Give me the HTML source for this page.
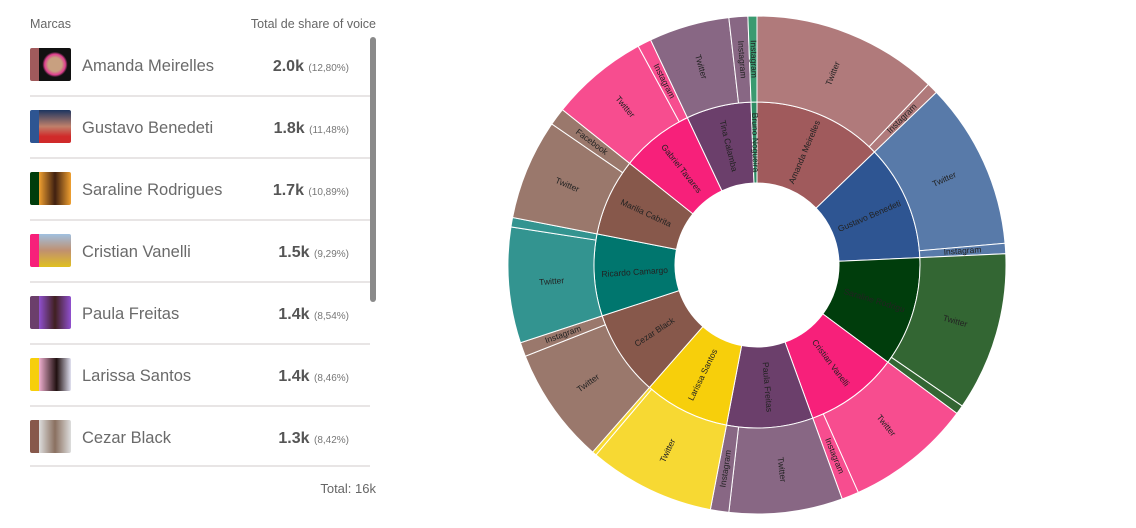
<!DOCTYPE html>
<html><head><meta charset="utf-8"><style>
body{margin:0;width:1136px;height:528px;background:#fff;font-family:"Liberation Sans",sans-serif;position:relative;overflow:hidden}
.h{position:absolute;top:17px;font-size:12.5px;color:#666}
.row{position:absolute;left:30px;width:340px;height:62px;border-bottom:2px solid #e8e5e5}
.av{position:absolute;left:0;top:0;width:41px;height:33px;border-radius:2px;overflow:hidden}
.st{position:absolute;left:0;top:0;width:9px;height:33px}
.im{position:absolute;left:9px;top:0;width:32px;height:33px}
.nm{position:absolute;left:52px;top:9px;font-size:16.5px;color:#6a6a6a}
.vl{position:absolute;right:21px;top:10px;font-size:16px;color:#555;font-weight:bold}
.vl small{font-size:10px;font-weight:normal;color:#777}
svg text{font-family:"Liberation Sans",sans-serif;font-size:8.5px;fill:#222}
</style></head><body>
<div class="h" style="left:30px">Marcas</div>
<div class="h" style="right:760px">Total de share of voice</div>
<div style="position:absolute;left:370px;top:37px;width:6px;height:265px;background:#8a8a8a;border-radius:3px"></div>

<div class="row" style="top:48px;height:47px"><div class="av"><div class="st" style="background:#a05a5c"></div><div class="im" style="background:radial-gradient(circle,#c8a080 30%,#e04090 45%,#111 55%)"></div></div><div class="nm">Amanda Meirelles</div><div class="vl">2.0k <small>(12,80%)</small></div></div>
<div class="row" style="top:110px;height:47px"><div class="av"><div class="st" style="background:#2e5592"></div><div class="im" style="background:linear-gradient(#1c3560,#c0806a 50%,#d02a2a 80%)"></div></div><div class="nm">Gustavo Benedeti</div><div class="vl">1.8k <small>(11,48%)</small></div></div>
<div class="row" style="top:172px;height:47px"><div class="av"><div class="st" style="background:#003d0c"></div><div class="im" style="background:linear-gradient(90deg,#f0a030,#402010 50%,#f0a030)"></div></div><div class="nm">Saraline Rodrigues</div><div class="vl">1.7k <small>(10,89%)</small></div></div>
<div class="row" style="top:234px;height:47px"><div class="av"><div class="st" style="background:#f7207a"></div><div class="im" style="background:linear-gradient(#a0c0e0,#c09070 50%,#e0c020)"></div></div><div class="nm">Cristian Vanelli</div><div class="vl">1.5k <small>(9,29%)</small></div></div>
<div class="row" style="top:296px;height:47px"><div class="av"><div class="st" style="background:#6b3f6b"></div><div class="im" style="background:linear-gradient(90deg,#9050d0,#402020 50%,#9050d0)"></div></div><div class="nm">Paula Freitas</div><div class="vl">1.4k <small>(8,54%)</small></div></div>
<div class="row" style="top:358px;height:47px"><div class="av"><div class="st" style="background:#f7cf0b"></div><div class="im" style="background:linear-gradient(90deg,#f0b0d0,#201010 55%,#e0e0f0)"></div></div><div class="nm">Larissa Santos</div><div class="vl">1.4k <small>(8,46%)</small></div></div>
<div class="row" style="top:420px;height:45px"><div class="av"><div class="st" style="background:#87584b"></div><div class="im" style="background:linear-gradient(90deg,#ddd,#8a7060 50%,#ddd)"></div></div><div class="nm">Cezar Black</div><div class="vl">1.3k <small>(8,42%)</small></div></div>
<div style="position:absolute;right:760px;top:481px;font-size:13px;color:#666">Total: 16k</div>

<svg id="s" width="1136" height="528" style="position:absolute;left:0;top:0">
<g id="arcs"></g>
<g id="lbl">
<text>Amanda Meirelles</text><text>Gustavo Benedeti</text><text>Saraline Rodrigu</text><text>Cristian Vanelli</text><text>Paula Freitas</text><text>Larissa Santos</text><text>Cezar Black</text><text>Ricardo Camargo</text><text>Marilia Cabrita</text><text>Gabriel Tavares</text><text>Tina Calamba</text><text>Bruno Nogueira</text>
<text>Twitter</text><text>Instagram</text><text>Twitter</text><text>Instagram</text><text>Twitter</text><text>Twitter</text><text>Instagram</text><text>Twitter</text><text>Instagram</text><text>Twitter</text><text>Twitter</text><text>Instagram</text><text>Twitter</text><text>Twitter</text><text>Facebook</text><text>Twitter</text><text>Instagram</text><text>Twitter</text><text>Instagram</text><text>Instagram</text>
</g>
</svg>
<script>
var cx=757,cy=265,r0=82,r1=163,r2=249;
function pt(a,r){var t=(a-90)*Math.PI/180;return [cx+r*Math.cos(t),cy+r*Math.sin(t)];}
function arc(a0,a1,ri,ro,c){var l=(a1-a0)>180?1:0,p=pt(a0,ro),q=pt(a1,ro),s=pt(a1,ri),u=pt(a0,ri);
return '<path d="M'+p+'A'+ro+','+ro+' 0 '+l+' 1 '+q+'L'+s+'A'+ri+','+ri+' 0 '+l+' 0 '+u+'Z" fill="'+c+'" stroke="#fff" stroke-width="1"/>';}
var inner=[[0,46.1,'#a05a5c'],[46.1,87.4,'#2e5592'],[87.4,126.6,'#003d0c'],[126.6,160,'#f7207a'],[160,190.8,'#6b3f6b'],[190.8,221.3,'#f7cf0b'],[221.3,251.8,'#87584b'],[251.8,281,'#00766e'],[281,308.6,'#87584b'],[308.6,334.7,'#f7207a'],[334.7,357.9,'#6b3f6b'],[357.9,360,'#2e8b63']];
var oc=['#b07a7b','#587aa9','#336633','#f74d8f','#886784','#f7d933','#9a786c','#339490','#9a786c','#f74d8f','#886784','#3a9a70'];
var outer=[[0,43.5,0,1],[43.5,46.1,0,1],[46.1,85,1,1],[85,87.4,1,1],[87.4,124.5,2,1],[124.5,126.6,2,0],[126.6,156,3,1],[156,160,3,1],[160,186.5,4,1],[186.5,190.8,4,1],[190.8,220.3,5,1],[220.3,221.3,5,0],[221.3,248.5,6,1],[248.5,251.8,6,1],[251.8,278.8,7,1],[278.8,281,7,0],[281,304.5,8,1],[304.5,308.6,8,1],[308.6,331.5,9,1],[331.5,334.7,9,1],[334.7,353.5,10,1],[353.5,357.9,10,1],[357.9,360,11,1]];
var h='';inner.forEach(function(d){h+=arc(d[0],d[1],r0,r1,d[2]);});
var ol=[];outer.forEach(function(d){h+=arc(d[0],d[1],r1,r2,oc[d[2]]);if(d[3])ol.push(d);});
document.getElementById('arcs').innerHTML=h;
var ts=document.querySelectorAll('#lbl text');
function place(t,a,r){var p=pt(a,r),rot=a<180?a-90:a+90;t.setAttribute('x',p[0]);t.setAttribute('y',p[1]);t.setAttribute('text-anchor','middle');t.setAttribute('dominant-baseline','middle');t.setAttribute('transform','rotate('+rot+' '+p[0]+' '+p[1]+')');}
inner.forEach(function(d,i){place(ts[i],(d[0]+d[1])/2,(r0+r1)/2);});
ol.forEach(function(d,i){place(ts[12+i],(d[0]+d[1])/2,(r1+r2)/2);});
</script>
</body></html>
